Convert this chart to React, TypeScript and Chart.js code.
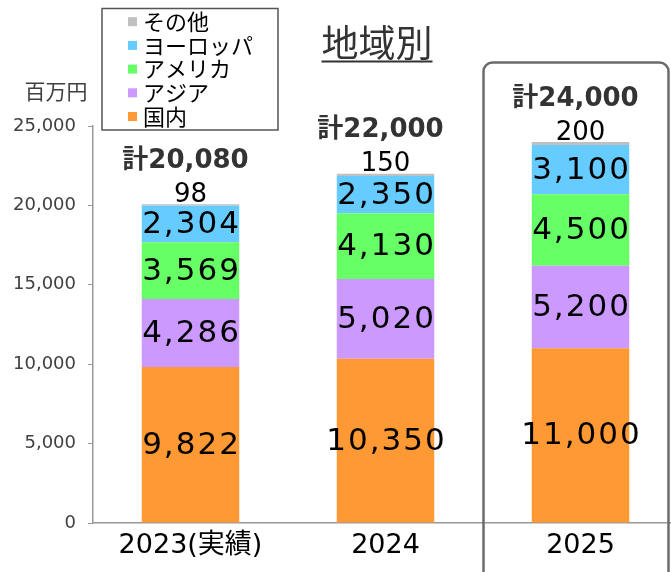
import React, { useEffect, useRef } from "react";
import { Chart, registerables } from "chart.js";

Chart.register(...registerables);

const categories = ["2023(実績)", "2024", "2025"];
const domestic = [9822, 10350, 11000];
const asia = [4286, 5020, 5200];
const america = [3569, 4130, 4500];
const europe = [2304, 2350, 3100];
const others = [98, 150, 200];
const totals = [20080, 22000, 24000];
const seriesNames = ["国内", "アジア", "アメリカ", "ヨーロッパ", "その他"];
const seriesColors = ["#FF9933", "#CC99FF", "#66FF66", "#66CCFF", "#C0C0C0"];
const yTicks = [0, 5000, 10000, 15000, 20000, 25000];
const yUnit = "百万円";
const titleText = "地域別";
const totalPrefix = "計";

const NUM = '"DejaVu Sans", "Noto Sans CJK JP", sans-serif';
const CJK = '"Noto Sans CJK JP", "DejaVu Sans", sans-serif';
const fmt = (v: number) => v.toLocaleString("en-US");

const overlay = {
  id: "overlay",
  afterDatasetsDraw(chart: any) {
    const ctx = chart.ctx as CanvasRenderingContext2D;
    const n = chart.data.datasets.length;
    ctx.save();
    ctx.textAlign = "center";
    ctx.textBaseline = "middle";
    chart.data.datasets.forEach((ds: any, di: number) => {
      const meta = chart.getDatasetMeta(di);
      meta.data.forEach((el: any, i: number) => {
        const v = ds.data[i] as number;
        const p = el.getProps(["x", "y", "base"], true);
        if (di < n - 1) {
          ctx.font = `31px ${NUM}`;
          (ctx as any).letterSpacing = "2px";
          ctx.fillStyle = "#000";
          ctx.fillText(fmt(v), p.x + 1, (p.y + p.base) / 2 + 1);
        } else {
          (ctx as any).letterSpacing = "0px";
          ctx.font = `26px ${NUM}`;
          ctx.fillStyle = "#000";
          ctx.fillText(fmt(v), p.x, p.y - 9);
          ctx.font = `bold 26px ${NUM}`;
          ctx.fillStyle = "#333";
          ctx.fillText(totalPrefix + fmt(totals[i]), p.x - 5, p.y - 43);
        }
      });
    });
    ctx.restore();
  },
  afterDraw(chart: any) {
    const ctx = chart.ctx as CanvasRenderingContext2D;
    ctx.save();
    // legend box
    ctx.strokeStyle = "#555";
    ctx.lineWidth = 1.5;
    ctx.strokeRect(102, 8.5, 176, 121.5);
    ctx.textAlign = "left";
    ctx.textBaseline = "middle";
    ctx.font = `22px ${CJK}`;
    const ds = chart.data.datasets;
    for (let k = 0; k < ds.length; k++) {
      const idx = ds.length - 1 - k;
      const cy = 21.7 + k * 23.7;
      ctx.fillStyle = ds[idx].backgroundColor;
      ctx.fillRect(128, cy - 4.5, 9, 9);
      ctx.fillStyle = "#000";
      ctx.fillText(ds[idx].label, 143, cy);
    }
    // unit
    ctx.textAlign = "center";
    ctx.font = `21px ${CJK}`;
    ctx.fillStyle = "#404040";
    ctx.fillText(yUnit, 56, 91);
    // title
    ctx.font = `37px ${CJK}`;
    ctx.fillStyle = "#333";
    ctx.fillText(titleText, 377, 43);
    const w = ctx.measureText(titleText).width;
    ctx.fillRect(377 - w / 2, 60.5, w, 2);
    // highlight box
    ctx.strokeStyle = "#6b6b6b";
    ctx.lineWidth = 2.5;
    ctx.beginPath();
    (ctx as any).roundRect(483.5, 62.5, 185, 530, 9);
    ctx.stroke();
    ctx.restore();
  },
};

export default function App() {
  const ref = useRef<HTMLCanvasElement | null>(null);
  useEffect(() => {
    if (!ref.current) return;
    const series = [domestic, asia, america, europe, others];
    const chart = new Chart(ref.current, {
      type: "bar",
      data: {
        labels: categories,
        datasets: series.map((d, i) => ({
          label: seriesNames[i],
          data: d,
          backgroundColor: seriesColors[i],
          borderWidth: 0,
          categoryPercentage: 0.5,
          barPercentage: 1,
        })),
      },
      options: {
        responsive: false,
        animation: false,
        devicePixelRatio: 1,
        layout: { padding: { top: 126, right: 12, bottom: 0, left: 0 } },
        plugins: {
          legend: { display: false },
          title: { display: false },
          tooltip: { enabled: false },
        },
        scales: {
          x: {
            stacked: true,
            grid: { display: false, drawTicks: false },
            border: { display: true, color: "#999", width: 1.5 },
            ticks: { font: { family: NUM, size: 27 }, color: "#000", padding: 7 },
            afterFit: (s: any) => {
              s.height = 49;
            },
          },
          y: {
            stacked: true,
            min: 0,
            max: 25000,
            afterBuildTicks: (s: any) => {
              s.ticks = yTicks.map((v) => ({ value: v }));
            },
            ticks: {
              callback: (v: any) => fmt(Number(v)),
              font: { family: NUM, size: 18 },
              color: "#404040",
              padding: 12,
            },
            grid: { drawOnChartArea: false, drawTicks: true, tickLength: 5, color: "#999" },
            border: { color: "#999", width: 1.5 },
            afterFit: (s: any) => {
              s.width = 93;
            },
          },
        },
      } as any,
      plugins: [overlay],
    });
    return () => chart.destroy();
  }, []);
  return (
    <div
      style={{
        position: "fixed",
        left: 0,
        top: 0,
        width: 671,
        height: 572,
        overflow: "hidden",
        background: "#fff",
      }}
    >
      <canvas ref={ref} width={690} height={572} style={{ display: "block", width: 690, height: 572 }} />
    </div>
  );
}
